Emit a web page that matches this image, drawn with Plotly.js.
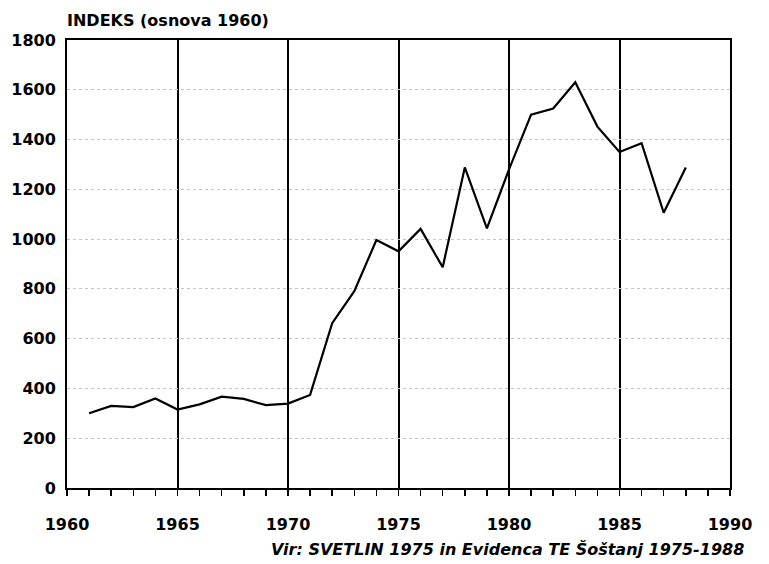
<!DOCTYPE html>
<html>
<head>
<meta charset="utf-8">
<script src="https://cdn.plot.ly/plotly-3.0.1.min.js"></script>
<style>html,body{margin:0;padding:0;background:#fff;}#chart{width:769px;height:564px;}</style>
</head>
<body>
<div id="chart"></div>
<script>
const years = [1961,1962,1963,1964,1965,1966,1967,1968,1969,1970,1971,1972,1973,1974,1975,1976,1977,1978,1979,1980,1981,1982,1983,1984,1985,1986,1987,1988];
const indeks = [300,330,325,360,315,336,367,358,333,339,374,662,791,996,951,1041,887,1288,1043,1280,1500,1525,1630,1452,1350,1385,1106,1288];
const xTicks = [1960,1965,1970,1975,1980,1985,1990];
const yTicks = [0,200,400,600,800,1000,1200,1400,1600,1800];
const titleText = 'INDEKS (osnova 1960)';
const sourceText = 'Vir: SVETLIN 1975 in Evidenca TE Šoštanj 1975-1988';

const font = {family: 'DejaVu Sans, sans-serif', size: 16, color: '#000', weight: 'bold'};

Plotly.newPlot('chart', [{
  x: years, y: indeks, type: 'scatter', mode: 'lines',
  line: {color: '#000', width: 2.2}, hoverinfo: 'skip'
}], {
  width: 769, height: 564,
  margin: {l: 67, r: 39, t: 40, b: 76},
  paper_bgcolor: '#fff', plot_bgcolor: '#fff',
  showlegend: false,
  font: font,
  xaxis: {
    range: [1960, 1990], tickvals: xTicks, ticktext: xTicks.map(String),
    showgrid: true, gridcolor: '#000', gridwidth: 2,
    showline: true, linecolor: '#000', linewidth: 2, mirror: true,
    ticks: 'outside', ticklen: 6, tickwidth: 1.5, tickcolor: '#000',
    ticklabelstandoff: 15,
    minor: {dtick: 1, tick0: 1960, ticks: 'outside', ticklen: 6, tickwidth: 1.5, tickcolor: '#000', showgrid: false},
    tickfont: font, zeroline: false, fixedrange: true
  },
  yaxis: {
    range: [0, 1800], tickvals: yTicks, ticktext: yTicks.map(String),
    showgrid: true, gridcolor: '#c4c4c4', gridwidth: 1, griddash: 'dot',
    showline: true, linecolor: '#000', linewidth: 2, mirror: true,
    ticks: '', ticklabelstandoff: 6,
    tickfont: font, zeroline: false, fixedrange: true
  },
  annotations: [
    {text: titleText, xref: 'paper', yref: 'paper', x: 0, y: 1, xanchor: 'left', yanchor: 'bottom', yshift: 8, xshift: -2, showarrow: false, font: font},
    {text: '<i>' + sourceText + '</i>', xref: 'paper', yref: 'paper', x: 1, y: 0, xanchor: 'right', yanchor: 'top', yshift: -49, xshift: 16, showarrow: false, font: font}
  ]
}, {staticPlot: true});
</script>
</body>
</html>
